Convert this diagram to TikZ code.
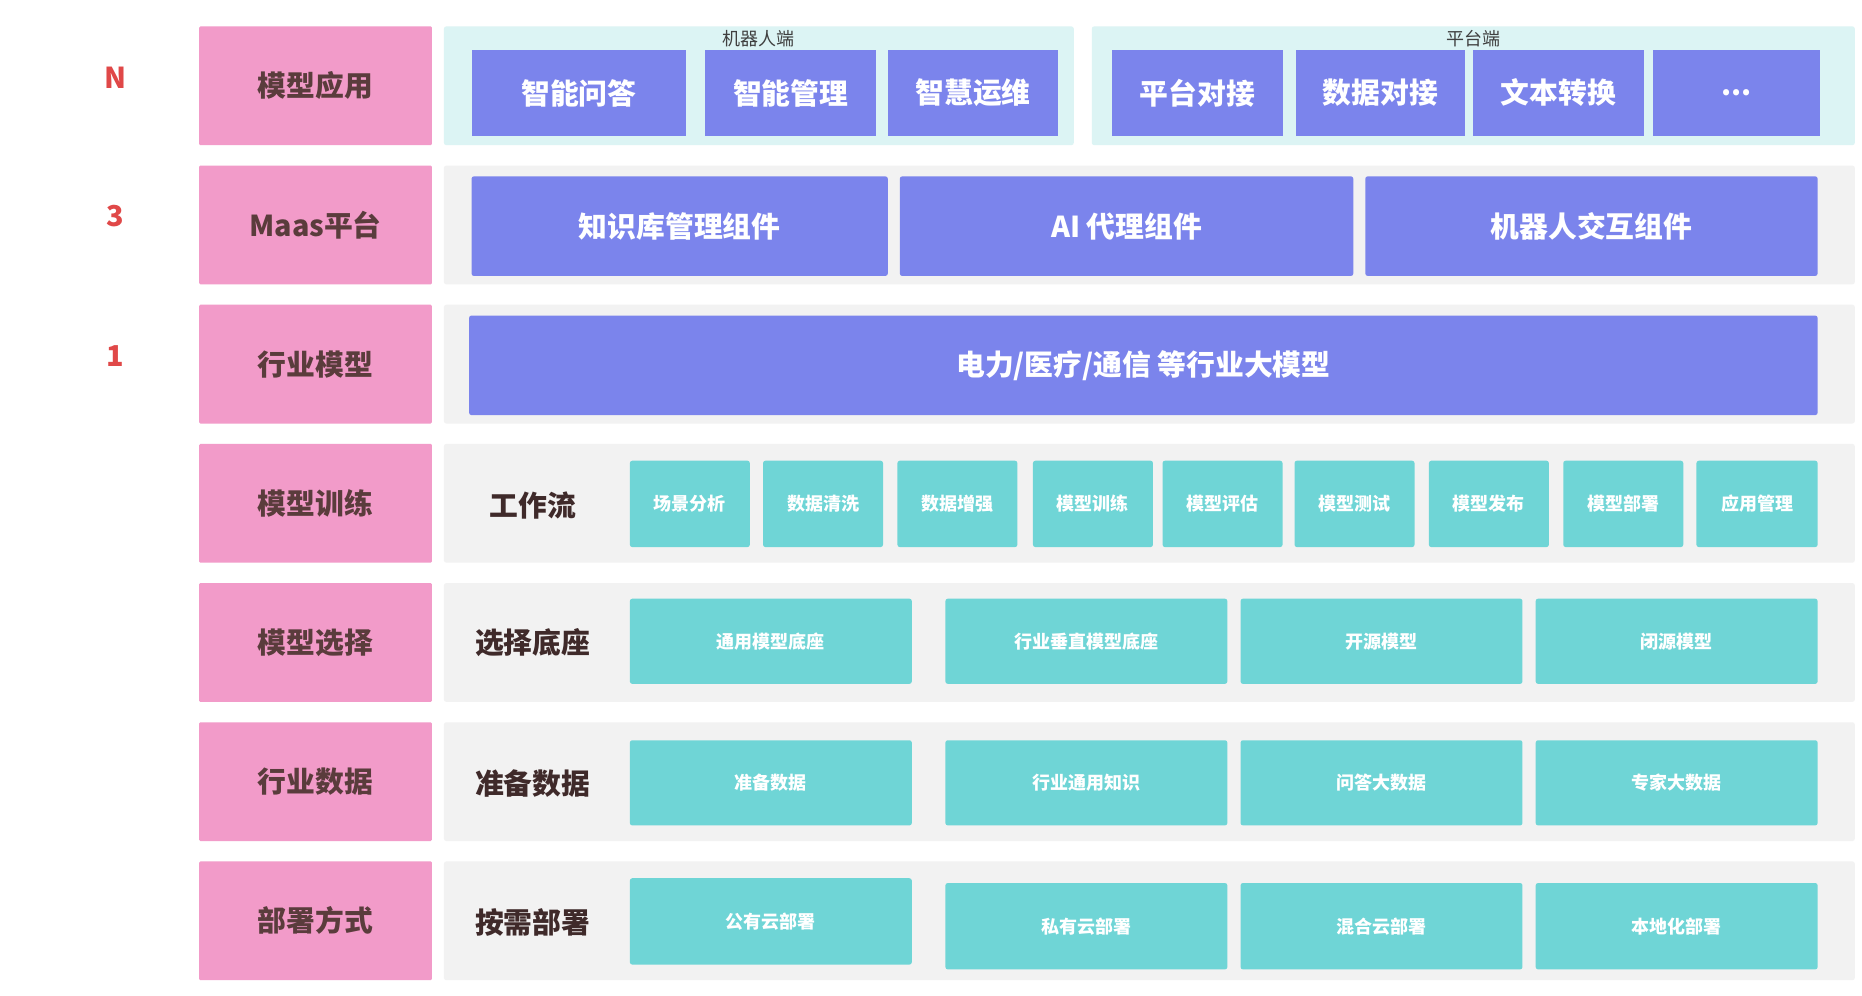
\documentclass[tikz,border=0pt]{standalone}
\usepackage{fontspec}
\setmainfont{Noto Sans CJK SC}
\definecolor{pinkc}{HTML}{F29BC9}
\definecolor{txtc}{HTML}{5A3C3C}
\definecolor{purc}{HTML}{7B84EC}
\definecolor{teal}{HTML}{6FD5D6}
\definecolor{greyp}{HTML}{F2F2F2}
\definecolor{cyanp}{HTML}{DCF4F4}
\definecolor{redn}{HTML}{E04848}
\newcommand{\mydots}{.{}.{}.}
\begin{document}
\begin{tikzpicture}[x=1pt,y=-1pt,
  lab/.style={fill=pinkc,text=txtc,font=\fontsize{24}{26}\selectfont\bfseries},
  pur/.style={fill=purc,text=white,font=\fontsize{24}{26}\selectfont\bfseries},
  tl/.style={fill=teal,text=white,font=\fontsize{15}{17}\selectfont\bfseries},
  side/.style={text=txtc!70!black,font=\fontsize{24}{26}\selectfont\bfseries},
  num/.style={text=redn,font=\fontsize{24}{26}\selectfont\bfseries}]
\useasboundingbox (0,0) rectangle (1552,830);
\fill[white] (0,0) rectangle (1552,830);
% left labels
\foreach \t/\y [count=\i] in {模型应用/22,Maas平台/138,行业模型/254,模型训练/370,模型选择/486,行业数据/602,部署方式/718}{
  \node[lab,minimum width=194,minimum height=99,inner sep=0,rounded corners=1pt] (L\i) at (263,\y+49.5) {\t};
}
\node[num] (nN) at (96,65) {N};
\node[num] (n3) at (96,180) {3};
\node[num] (n1) at (96,297) {1};
% panels
\fill[cyanp,rounded corners=2pt] (370,22) rectangle (895,121);
\fill[cyanp,rounded corners=2pt] (910,22) rectangle (1546,121);
\foreach \y in {138,254,370,486,602,718}{
  \fill[greyp,rounded corners=2pt] (370,\y) rectangle (1546,\y+99);
}
\node[text=black!75,font=\fontsize{15}{17}\selectfont] (r1) at (632,32) {机器人端};
\node[text=black!75,font=\fontsize{15}{17}\selectfont] (r2) at (1228,32) {平台端};
% row 1
\foreach \a/\b/\t [count=\i] in {393/572/智能问答,588/730/智能管理,740/882/智慧运维,927/1069/平台对接,1080/1221/数据对接,1228/1370/文本转换,1378/1517/\mydots}{
  \node[pur,minimum width=\b-\a,minimum height=71,inner sep=0] (a\i) at ({(\a+\b)/2},77.5) {\t};
}
% row 2
\foreach \a/\b/\t [count=\i] in {393/740/知识库管理组件,750/1128/AI 代理组件,1138/1515/机器人交互组件}{
  \node[pur,minimum width=\b-\a,minimum height=83,inner sep=0,rounded corners=2pt] (b\i) at ({(\a+\b)/2},188.5) {\t};
}
\node[pur,minimum width=1124,minimum height=83,inner sep=0,rounded corners=2pt] (c1) at (953,304.5) {电力/医疗/通信 等行业大模型};
% row 4
\node[side] (s4) at (444,421) {工作流};
\foreach \a/\b/\t [count=\i] in {525/625/场景分析,636/736/数据清洗,748/848/数据增强,861/961/模型训练,969/1069/模型评估,1079/1179/模型测试,1191/1291/模型发布,1303/1403/模型部署,1414/1515/应用管理}{
  \node[tl,minimum width=\b-\a,minimum height=72,inner sep=0,rounded corners=2pt] (d\i) at ({(\a+\b)/2},420) {\t};
}
\node[side] (s5) at (444,536) {选择底座};
\foreach \a/\b/\t [count=\i] in {525/760/通用模型底座,788/1023/行业垂直模型底座,1034/1269/开源模型,1280/1515/闭源模型}{
  \node[tl,minimum width=\b-\a,minimum height=71,inner sep=0,rounded corners=2pt] (e\i) at ({(\a+\b)/2},534.5) {\t};
}
\node[side] (s6) at (444,653) {准备数据};
\foreach \a/\b/\t [count=\i] in {525/760/准备数据,788/1023/行业通用知识,1034/1269/问答大数据,1280/1515/专家大数据}{
  \node[tl,minimum width=\b-\a,minimum height=71,inner sep=0,rounded corners=2pt] (f\i) at ({(\a+\b)/2},652.5) {\t};
}
\node[side] (s7) at (444,769) {按需部署};
\node[tl,minimum width=235,minimum height=72,inner sep=0,rounded corners=2pt] (g1) at (642.5,768) {公有云部署};
\foreach \a/\b/\t [count=\i from 2] in {788/1023/私有云部署,1034/1269/混合云部署,1280/1515/本地化部署}{
  \node[tl,minimum width=\b-\a,minimum height=72,inner sep=0,rounded corners=2pt] (g\i) at ({(\a+\b)/2},772) {\t};
}
\end{tikzpicture}
\end{document}
